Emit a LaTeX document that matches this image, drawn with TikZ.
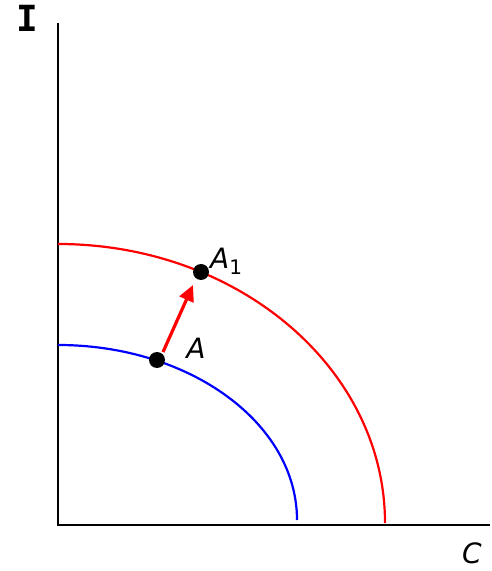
\documentclass[tikz,border=0pt]{standalone}
\usepackage{fontspec}
\setmainfont{DejaVu Sans}
\newfontfamily\monofam{DejaVu Sans Mono}
\usetikzlibrary{arrows.meta}
\tikzset{
  axis/.style={line width=2.4pt,black},
  curve/.style={line width=2.2pt},
  dot/.style={circle,fill=black,inner sep=0pt,minimum size=16pt},
  lbl/.style={font=\fontsize{28}{32}\selectfont\itshape,inner sep=0pt},
  movearrow/.style={red,line width=3.2pt,-{Triangle[length=16pt,width=15pt]}}
}
\begin{document}
\begin{tikzpicture}[x=1pt,y=1pt]
\useasboundingbox (0,0) rectangle (491,571);
\coordinate (O) at (58,46);
\coordinate (Ytop) at (58,548);
\coordinate (Xend) at (490,46);
\draw[axis] (Ytop) -- (O) -- (Xend);
\node[font=\fontsize{36}{40}\selectfont\monofam\bfseries,inner sep=0pt] (ylab) at (27,553) {I};
\node[lbl] (xlab) at (472,18) {C};
\draw[blue,curve] (58,226) arc[start angle=90,end angle=0,x radius=239,y radius=175];
\draw[red,curve] (58,327) arc[start angle=90,end angle=0,x radius=327,y radius=279];
\node[dot] (A) at (157,211) {};
\node[dot] (A1) at (201,299) {};
\coordinate (s) at (163,219);
\coordinate (e) at (193,286);
\draw[movearrow] (s) -- (e);
\node[lbl] (Alab) at (196,223) {A};
\node[lbl,anchor=west] (A1lab) at (210,310) {A\raisebox{-6pt}{\fontsize{20}{24}\selectfont\upshape 1}};
\end{tikzpicture}
\end{document}
